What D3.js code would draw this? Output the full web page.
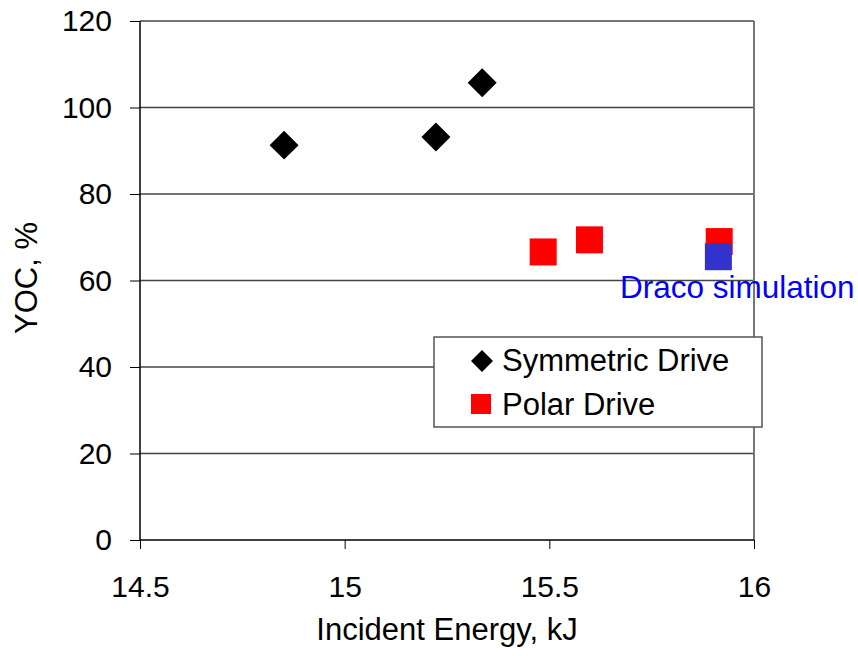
<!DOCTYPE html>
<html>
<head>
<meta charset="utf-8">
<script src="https://cdn.jsdelivr.net/npm/d3@7"></script>
<style>
  body { margin: 0; background: #fff; }
  text { font-family: "Liberation Sans", Arial, sans-serif; }
</style>
</head>
<body>
<svg id="chart"></svg>
<script>
// data
const symEnergy = [14.852, 15.223, 15.336]
const symYoc = [91.3, 93.2, 105.7]
const polarEnergy = [15.485, 15.598, 15.915]
const polarYoc = [66.6, 69.4, 69.0]
const dracoEnergy = [15.913]
const dracoYoc = [65.5]
const xTicks = [14.5, 15, 15.5, 16]
const yTicks = [0, 20, 40, 60, 80, 100, 120]
const legendLabels = ["Symmetric Drive", "Polar Drive"]

const dims = { width: 858, height: 656, left: 140, right: 754, top: 21, bottom: 540 }
const FONT = 30
const LABEL_FONT = 31

const svg = d3.select("#chart").attr("width", dims.width).attr("height", dims.height)

const x = d3.scaleLinear().domain([14.5, 16]).range([dims.left, dims.right])
const y = d3.scaleLinear().domain([0, 120]).range([dims.bottom, dims.top])

// gridlines
svg.append("g").selectAll("line").data(yTicks.filter(d => d > 0)).join("line")
  .attr("x1", dims.left).attr("x2", dims.right)
  .attr("y1", d => y(d)).attr("y2", d => y(d))
  .attr("stroke", "#444").attr("stroke-width", 1.5)

// right border
svg.append("line")
  .attr("x1", dims.right).attr("x2", dims.right)
  .attr("y1", dims.top).attr("y2", dims.bottom)
  .attr("stroke", "#777").attr("stroke-width", 2)

// axes
const yAxis = d3.axisLeft(y).tickValues(yTicks).tickSize(10).tickPadding(18)
const yG = svg.append("g").attr("transform", `translate(${dims.left},0)`).call(yAxis)
const xAxis = d3.axisBottom(x).tickValues(xTicks).tickSize(9).tickPadding(27).tickFormat(d3.format(""))
const xG = svg.append("g").attr("transform", `translate(0,${dims.bottom})`).call(xAxis)

;[xG, yG].forEach(g => {
  g.select(".domain").attr("stroke", "#000").attr("stroke-width", 1.5)
  g.selectAll(".tick line").attr("stroke", "#000").attr("stroke-width", 1)
  g.selectAll(".tick text").attr("fill", "#000")
    .style("font-size", FONT + "px").style("font-family", "Liberation Sans, Arial, sans-serif")
})
yG.select(".domain").attr("d", `M0,${dims.top}V${dims.bottom}`)
xG.select(".domain").attr("d", `M${dims.left},0H${dims.right}`)

// axis titles
svg.append("text").attr("x", 447).attr("y", 640).attr("text-anchor", "middle")
  .style("font-size", LABEL_FONT + "px").text("Incident Energy, kJ")
svg.append("text").attr("transform", "translate(37,278) rotate(-90)").attr("text-anchor", "middle")
  .style("font-size", LABEL_FONT + "px").text("YOC, %")

// markers
const diamond = d3.symbol().type(d3.symbolSquare)
svg.append("g").selectAll("path").data(symEnergy).join("path")
  .attr("d", diamond.size(420)())
  .attr("transform", (d, i) => `translate(${x(d)},${y(symYoc[i])}) rotate(45)`)
  .attr("fill", "#000")

svg.append("g").selectAll("rect").data(polarEnergy).join("rect")
  .attr("x", d => x(d) - 13.5).attr("y", (d, i) => y(polarYoc[i]) - 13.5)
  .attr("width", 27).attr("height", 27).attr("fill", "#ff0000")

svg.append("g").selectAll("rect").data(dracoEnergy).join("rect")
  .attr("x", d => x(d) - 13.5).attr("y", (d, i) => y(dracoYoc[i]) - 13.5)
  .attr("width", 27).attr("height", 27).attr("fill", "#3333cc")

svg.append("text").attr("x", 620).attr("y", 298).attr("fill", "#0000ff")
  .style("font-size", "31.5px").text("Draco simulation")

// legend
const lg = svg.append("g").attr("transform", "translate(434,337)")
lg.append("rect").attr("width", 328).attr("height", 90)
  .attr("fill", "#fff").attr("stroke", "#555").attr("stroke-width", 1.5)
lg.append("path").attr("d", d3.symbol().type(d3.symbolSquare).size(243)())
  .attr("transform", "translate(48,24) rotate(45)").attr("fill", "#000")
lg.append("rect").attr("x", 37).attr("y", 57).attr("width", 20).attr("height", 20).attr("fill", "#ff0000")
lg.selectAll("text.lbl").data(legendLabels).join("text").attr("class", "lbl")
  .attr("x", 68).attr("y", (d, i) => 34 + i * 44)
  .style("font-size", LABEL_FONT + "px").text(d => d)
</script>
</body>
</html>
